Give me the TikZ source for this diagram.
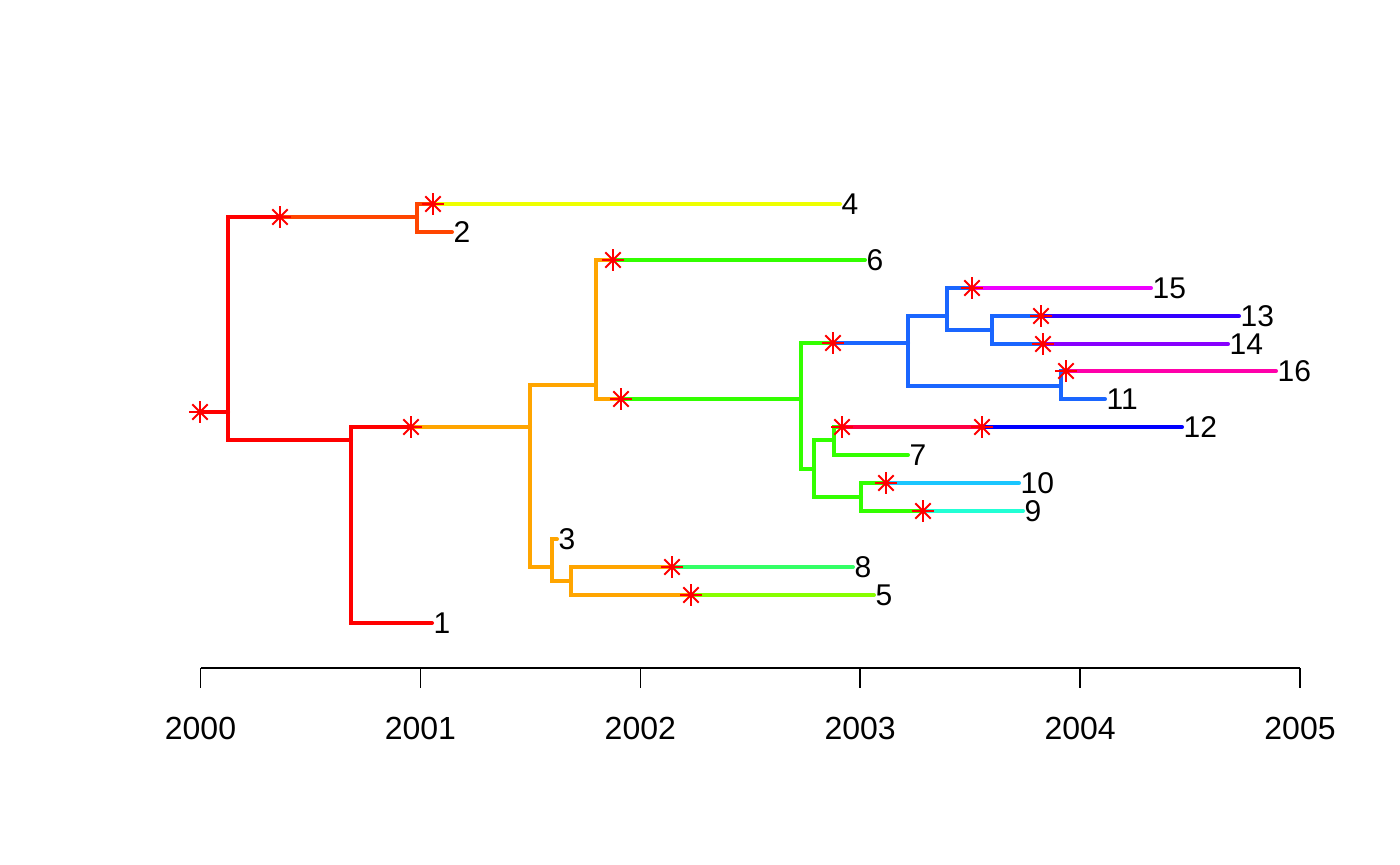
\documentclass[tikz,border=0pt]{standalone}
\usepackage{fontspec}
\setmainfont{Liberation Sans}
\usepackage{tikz}
\definecolor{cRed}{HTML}{FF0000}
\definecolor{cOrRed}{HTML}{FF4500}
\definecolor{cOrange}{HTML}{FFA500}
\definecolor{cYellow}{HTML}{EEFF00}
\definecolor{cGreen}{HTML}{33FF00}
\definecolor{cSpring}{HTML}{33FF66}
\definecolor{cLime}{HTML}{88FF00}
\definecolor{cBlue}{HTML}{1A66FF}
\definecolor{cNavy}{HTML}{0000FF}
\definecolor{cIndigo}{HTML}{3300FF}
\definecolor{cViolet}{HTML}{8800FF}
\definecolor{cMagenta}{HTML}{EE00FF}
\definecolor{cPink}{HTML}{FF00AA}
\definecolor{cCrimson}{HTML}{FF0044}
\definecolor{cSky}{HTML}{1AC6FF}
\definecolor{cAqua}{HTML}{22FFD5}
\tikzset{
  branch/.style   = {line width=2pt,line cap=round},
  mut/.style      = {circle,inner sep=0pt,minimum size=10.5pt},
  mutline/.style  = {red,line width=0.9pt},
  tip/.style      = {anchor=west,inner sep=0.6pt,font=\fontsize{15}{18}\selectfont},
  yearlbl/.style  = {inner sep=0pt,font=\fontsize{16}{19}\selectfont},
  axisline/.style = {black,line width=0.75pt}
}
\newcommand{\mutmark}[1]{%
  \node[mut] (#1m) at (#1) {};
  \draw[mutline] (#1m.north) -- (#1m.south) (#1m.west) -- (#1m.east)
    (#1m.north west) -- (#1m.south east) (#1m.north east) -- (#1m.south west);
}

\begin{document}
\begin{tikzpicture}[x=0.5pt,y=-0.5pt]
  \useasboundingbox (0,0) rectangle (1400,865);
  % internal nodes
  \coordinate (r0)  at (200,412);
  \coordinate (n1)  at (228,412);
  \coordinate (n2)  at (417,217);
  \coordinate (n3)  at (351,440);
  \coordinate (n4)  at (530,427);
  \coordinate (n5)  at (596,385);
  \coordinate (n6)  at (552,567);
  \coordinate (n7)  at (801,399);
  \coordinate (n8)  at (908,343);
  \coordinate (n9)  at (814,469);
  \coordinate (n10) at (947,316);
  \coordinate (n11) at (1061,386);
  \coordinate (n12) at (992,330);
  \coordinate (n13) at (834,440);
  \coordinate (n14) at (861,497);
  \coordinate (n15) at (571,581);
  % mutations
  \coordinate (s-n2)   at (280,217);
  \coordinate (s-t4)   at (433,204);
  \coordinate (s-n4)   at (411,427);
  \coordinate (s-t6)   at (613,260);
  \coordinate (s-n7)   at (621,399);
  \coordinate (s-n8)   at (833,343);
  \coordinate (s-t15)  at (972,288);
  \coordinate (s-t13)  at (1041,316);
  \coordinate (s-t14)  at (1043,344);
  \coordinate (s-t16)  at (1066,371);
  \coordinate (s-t12a) at (842,427);
  \coordinate (s-t12b) at (982,427);
  \coordinate (s-t10)  at (886,483);
  \coordinate (s-t9)   at (923,511);
  \coordinate (s-t8)   at (672,567);
  \coordinate (s-t5)   at (691,595);
  % tips
  \node[tip] (t4)  at (840,204)  {4};
  \node[tip] (t2)  at (452,232)  {2};
  \node[tip] (t6)  at (865,260)  {6};
  \node[tip] (t15) at (1151,288) {15};
  \node[tip] (t13) at (1239,316) {13};
  \node[tip] (t14) at (1228,344) {14};
  \node[tip] (t16) at (1276,371) {16};
  \node[tip] (t11) at (1105,399) {11};
  \node[tip] (t12) at (1182,427) {12};
  \node[tip] (t7)  at (908,455)  {7};
  \node[tip] (t10) at (1019,483) {10};
  \node[tip] (t9)  at (1023,511) {9};
  \node[tip] (t3)  at (557,539)  {3};
  \node[tip] (t8)  at (853,567)  {8};
  \node[tip] (t5)  at (874,595)  {5};
  \node[tip] (t1)  at (432,623)  {1};

  % branches
  \draw[branch,cRed] (r0) -- (n1);
  \draw[branch,cRed] (n1) |- (s-n2);
  \draw[branch,cOrRed] (s-n2) -- (n2);
  \draw[branch,cRed] (n1) |- (n3);
  \draw[branch,cOrRed] (n2) |- (s-t4);
  \draw[branch,cYellow] (s-t4) -- (t4.west);
  \draw[branch,cOrRed] (n2) |- (t2.west);
  \draw[branch,cRed] (n3) |- (t1.west);
  \draw[branch,cRed] (n3) |- (s-n4);
  \draw[branch,cOrange] (s-n4) -- (n4);
  \draw[branch,cOrange] (n4) |- (n5);
  \draw[branch,cOrange] (n4) |- (n6);
  \draw[branch,cOrange] (n5) |- (s-t6);
  \draw[branch,cGreen] (s-t6) -- (t6.west);
  \draw[branch,cOrange] (n5) |- (s-n7);
  \draw[branch,cGreen] (s-n7) -- (n7);
  \draw[branch,cGreen] (n7) |- (s-n8);
  \draw[branch,cBlue] (s-n8) -- (n8);
  \draw[branch,cGreen] (n7) |- (n9);
  \draw[branch,cBlue] (n8) |- (n10);
  \draw[branch,cBlue] (n8) |- (n11);
  \draw[branch,cBlue] (n10) |- (s-t15);
  \draw[branch,cMagenta] (s-t15) -- (t15.west);
  \draw[branch,cBlue] (n10) |- (n12);
  \draw[branch,cBlue] (n12) |- (s-t13);
  \draw[branch,cIndigo] (s-t13) -- (t13.west);
  \draw[branch,cBlue] (n12) |- (s-t14);
  \draw[branch,cViolet] (s-t14) -- (t14.west);
  \draw[branch,cBlue] (n11) |- (s-t16);
  \draw[branch,cPink] (s-t16) -- (t16.west);
  \draw[branch,cBlue] (n11) |- (t11.west);
  \draw[branch,cGreen] (n9) |- (n13);
  \draw[branch,cGreen] (n9) |- (n14);
  \draw[branch,cGreen] (n13) |- (s-t12a);
  \draw[branch,cCrimson] (s-t12a) -- (s-t12b);
  \draw[branch,cNavy] (s-t12b) -- (t12.west);
  \draw[branch,cGreen] (n13) |- (t7.west);
  \draw[branch,cGreen] (n14) |- (s-t10);
  \draw[branch,cSky] (s-t10) -- (t10.west);
  \draw[branch,cGreen] (n14) |- (s-t9);
  \draw[branch,cAqua] (s-t9) -- (t9.west);
  \draw[branch,cOrange] (n6) |- (t3.west);
  \draw[branch,cOrange] (n6) |- (n15);
  \draw[branch,cOrange] (n15) |- (s-t8);
  \draw[branch,cSpring] (s-t8) -- (t8.west);
  \draw[branch,cOrange] (n15) |- (s-t5);
  \draw[branch,cLime] (s-t5) -- (t5.west);

  % mutation marks
  \foreach \s in {r0,s-n2,s-t4,s-n4,s-t6,s-n7,s-n8,s-t15,s-t13,s-t14,
                  s-t16,s-t12a,s-t12b,s-t10,s-t9,s-t8,s-t5}{
    \mutmark{\s}
  }

  % time axis
  \foreach \k in {0,...,5}{
    \coordinate (ax\k) at (200.5+219.9*\k,668);
    \pgfmathtruncatemacro{\yr}{2000+\k}
    \draw[axisline] (ax\k) -- ++(0,20) coordinate (tk\k);
    \node[yearlbl] (yr\k) at (200.5+219.9*\k,728) {\yr};
  }
  \draw[axisline] (ax0) -- (ax5);
\end{tikzpicture}
\end{document}
